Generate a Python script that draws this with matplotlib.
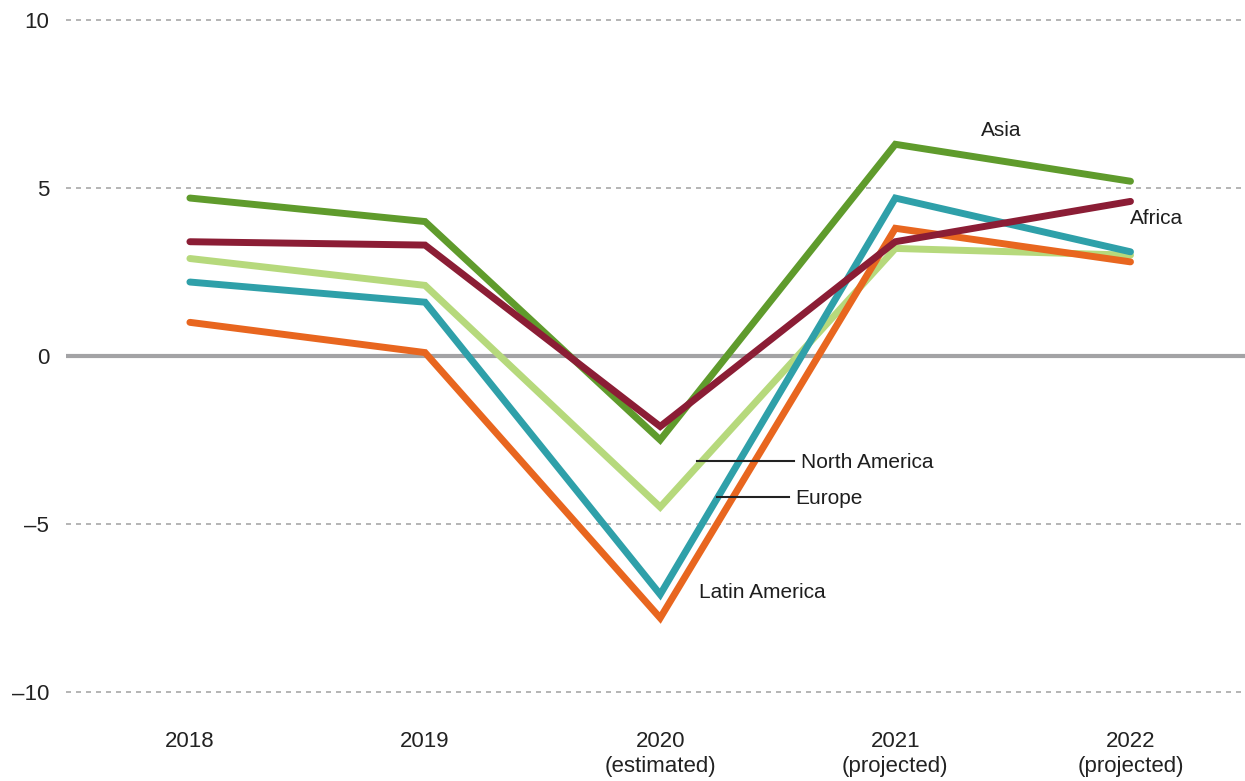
import matplotlib
matplotlib.use("Agg")
import matplotlib.pyplot as plt

# Dane
lata = ["2018", "2019", "2020\n(estimated)", "2021\n(projected)", "2022\n(projected)"]
asia = [4.7, 4.0, -2.5, 6.3, 5.2]
africa = [3.4, 3.3, -2.1, 3.4, 4.6]
north_america = [2.9, 2.1, -4.5, 3.2, 3.0]
europe = [2.2, 1.6, -7.1, 4.7, 3.1]
latin_america = [1.0, 0.1, -7.8, 3.8, 2.8]
y_ticks = [-10, -5, 0, 5, 10]
y_tick_labels = ["\u201310", "\u20135", "0", "5", "10"]

plt.rcParams['font.family'] = ['Liberation Sans Narrow', 'Liberation Sans', 'DejaVu Sans']

fig = plt.figure(figsize=(12.45, 7.81), dpi=100)
ax = fig.add_axes([0.053, 0.0883, 0.947, 0.9076])

x = list(range(len(lata)))

# Siatka
for t in y_ticks:
    if t == 0:
        ax.axhline(0, color='#a3a3a5', lw=3, zorder=1)
    else:
        ax.axhline(t, color='#a8a8a8', lw=1.2, ls=(0, (3, 3)), zorder=1)

serie = [
    (north_america, '#b6d97c'),
    (europe, '#2fa0a9'),
    (latin_america, '#e8661f'),
    (asia, '#5f9b2c'),
    (africa, '#8b1d35'),
]
for wartosci, kolor in serie:
    ax.plot(x, wartosci, color=kolor, lw=5, solid_capstyle='round',
            solid_joinstyle='miter', zorder=3)

# Etykiety serii
opis = dict(fontsize=15, color='#1e1e1e', va='center', fontweight='medium')
ax.text(3.45, 6.7, "Asia", ha='center', **opis)
ax.text(4.11, 4.08, "Africa", ha='center', **opis)
ax.plot([2.157, 2.569], [-3.125, -3.125], color='#222222', lw=1.5, zorder=4)
ax.text(2.60, -3.18, "North America", ha='left', **opis)
ax.plot([2.242, 2.548], [-4.2, -4.2], color='#222222', lw=1.5, zorder=4)
ax.text(2.573, -4.25, "Europe", ha='left', **opis)
ax.text(2.166, -7.03, "Latin America", ha='left', **opis)

ax.set_xlim(-0.527, 4.487)
ax.set_ylim(-10.6, 10.5)
ax.set_xticks(x)
ax.set_xticklabels(lata, fontsize=16, color='#222222', linespacing=1.25,
                   family=['Liberation Sans', 'DejaVu Sans'])
ax.set_yticks(y_ticks)
ax.set_yticklabels(y_tick_labels, fontsize=16, color='#222222',
                   family=['Liberation Sans', 'DejaVu Sans'])
ax.tick_params(axis='y', length=0, pad=12)
ax.tick_params(axis='x', length=0, pad=14)
for s in ax.spines.values():
    s.set_visible(False)

fig.savefig("out.png", dpi=100)
